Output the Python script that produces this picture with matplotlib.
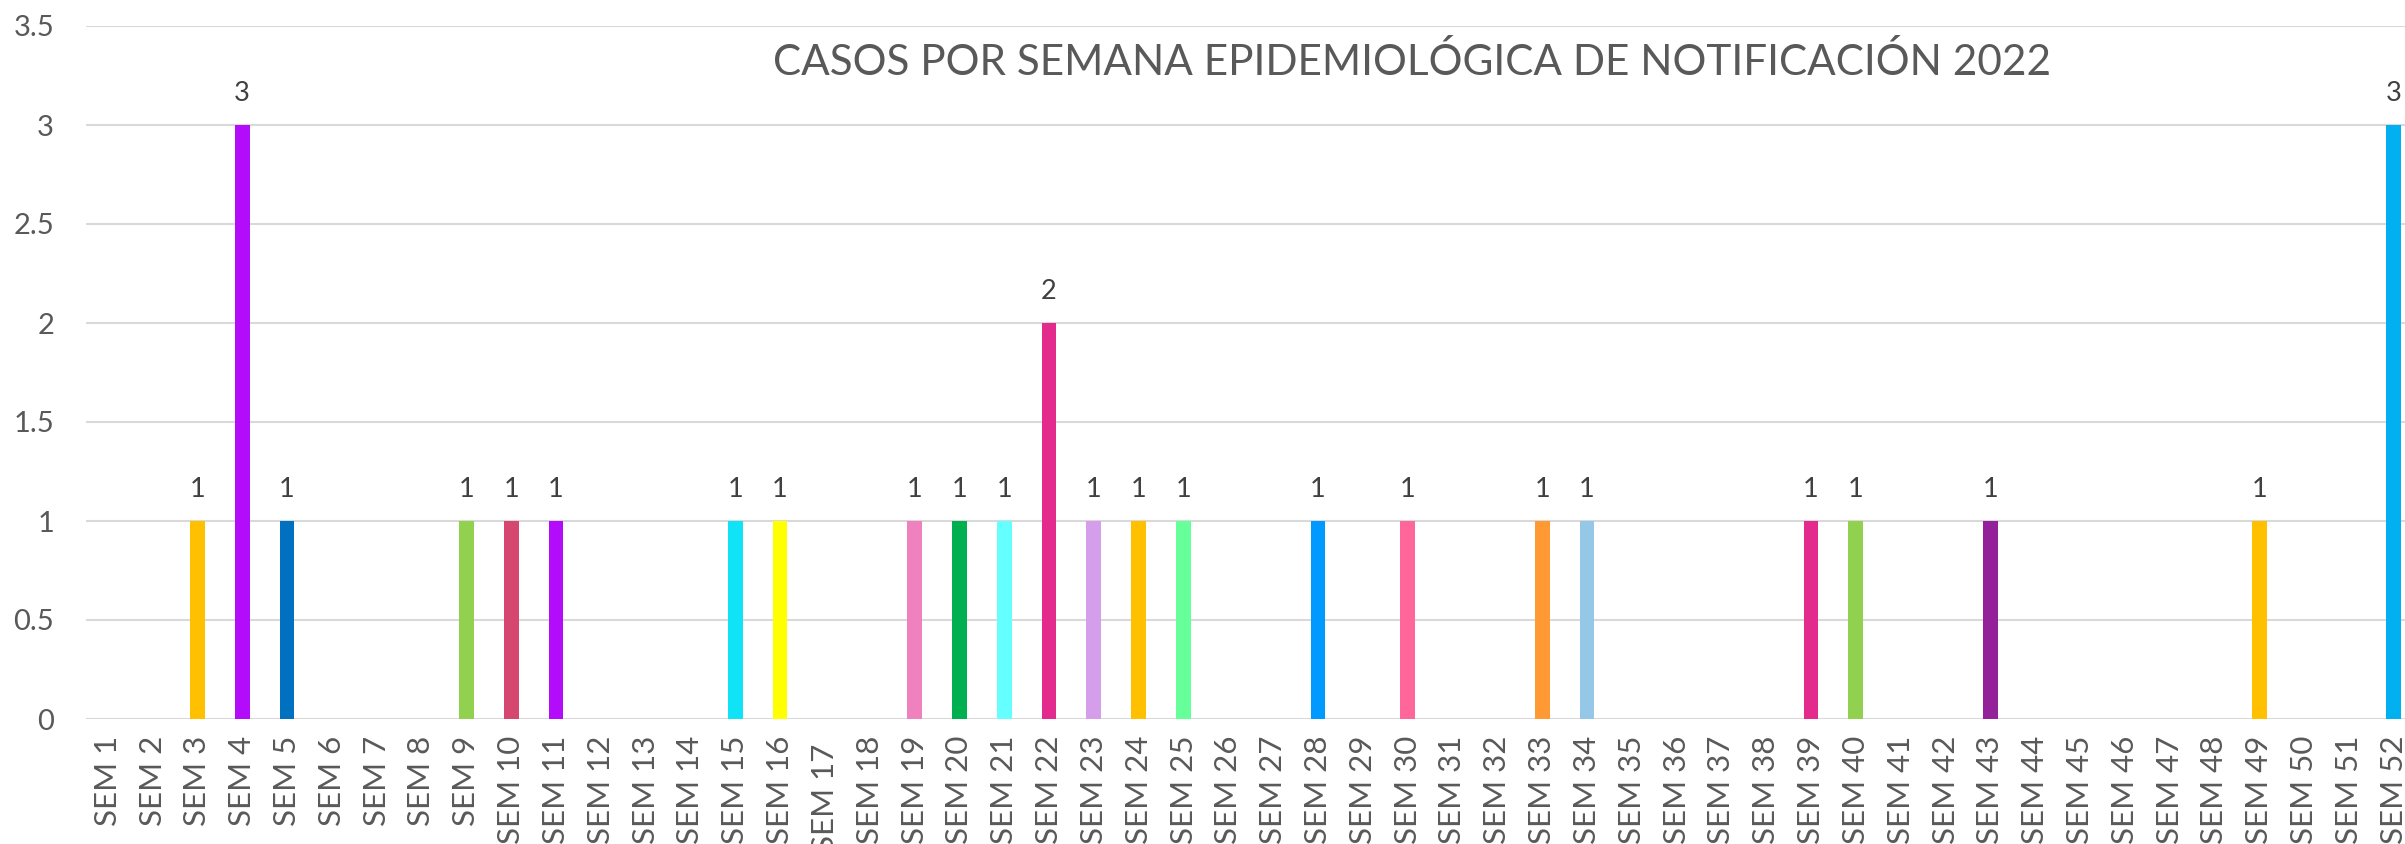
import numpy as np
import matplotlib.pyplot as plt

plt.rcParams['font.family'] = ['Lato', 'DejaVu Sans']

# weekly cases (epidemiological weeks 1..52)
weeks = ['SEM %d' % i for i in range(1, 53)]
weeks[16] = 'SEM 17 '  # this label has a trailing space in the source
cases = [0, 0, 1, 3, 1, 0, 0, 0, 1, 1, 1, 0, 0, 0, 1, 1, 0, 0, 1, 1,
         1, 2, 1, 1, 1, 0, 0, 1, 0, 1, 0, 0, 1, 1, 0, 0, 0, 0, 1, 1,
         0, 0, 1, 0, 0, 0, 0, 0, 1, 0, 0, 3]

# colour of each non-empty week
week_colors = {
    3: '#FFC000', 4: '#B20CFB', 5: '#0070C0', 9: '#92D050', 10: '#D5476F',
    11: '#B20CFB', 15: '#0FE3F5', 16: '#FFFF00', 19: '#EF82BE', 20: '#00B050',
    21: '#66FFFF', 22: '#E32B8E', 23: '#D59EEB', 24: '#FFC000', 25: '#66FF99',
    28: '#0099FF', 30: '#FF6699', 33: '#FF9933', 34: '#95C8E6', 39: '#E32B8E',
    40: '#92D050', 43: '#93229A', 49: '#FFC000', 52: '#00B0F0',
}

title = 'CASOS POR SEMANA EPIDEMIOLÓGICA DE NOTIFICACIÓN 2022'

x = np.arange(len(weeks))
colors = [week_colors.get(i + 1, '#FFFFFF') for i in range(len(weeks))]

W, H = 2405, 844
fig = plt.figure(figsize=(W / 100, H / 100), dpi=100)
ax = fig.add_axes([86 / W, (H - 719) / H, 1 - 86 / W, (719 - 26) / H])

ax.bar(x, cases, width=0.33, color=colors, zorder=3)

ax.set_xlim(-0.484, 51.25)
ax.set_ylim(0, 3.5)

ax.set_xticks(x)
ax.set_xticklabels(weeks, rotation=90, fontsize=22.5, color='#595959')
yt = np.arange(0, 3.51, 0.5)
ax.set_yticks(yt)
ax.set_yticklabels(['%g' % v for v in yt], fontsize=21, color='#595959')
ax.tick_params(axis='x', length=0, pad=12)
ax.tick_params(axis='y', length=0, pad=23)

ax.yaxis.grid(True, color='#D9D9D9', linewidth=1.5)
ax.set_axisbelow(True)
for s in ax.spines.values():
    s.set_visible(False)

# data labels
for xi, v in zip(x, cases):
    if v > 0:
        ax.annotate(str(v), (xi, v), xytext=(0, 14), textcoords='offset points',
                    ha='center', va='bottom', fontsize=19.5, color='#404040')

fig.text(1412 / W, 1 - 75 / H, title, ha='center', va='baseline',
         fontsize=30.4, color='#595959')

fig.savefig('out.png', dpi=100)
